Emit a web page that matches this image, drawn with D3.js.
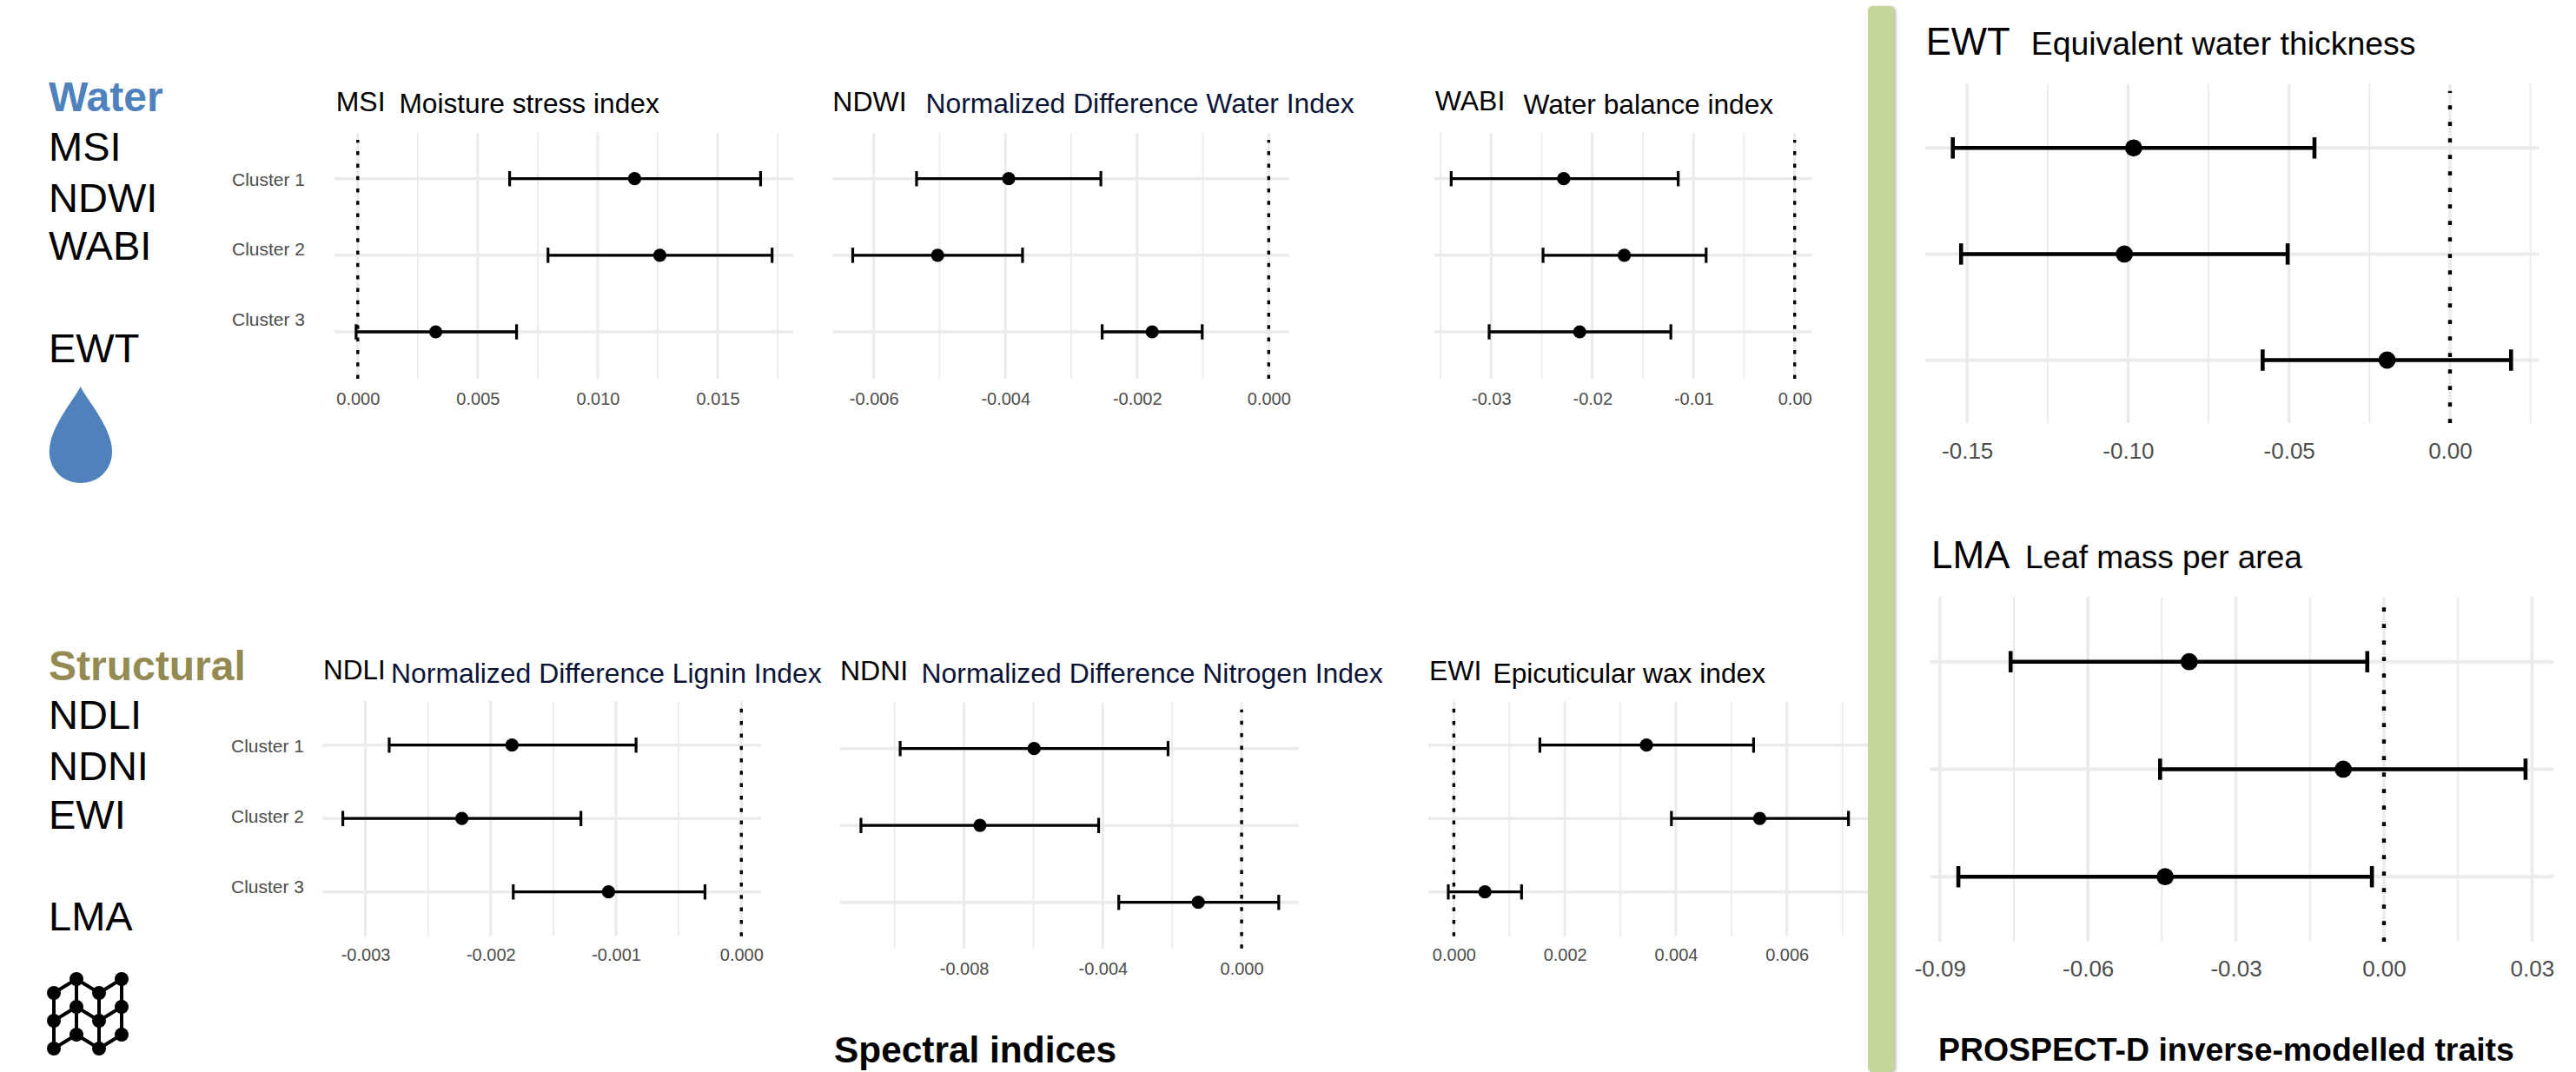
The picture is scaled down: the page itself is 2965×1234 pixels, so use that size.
<!DOCTYPE html>
<html>
<head>
<meta charset="utf-8">
<script src="https://cdn.jsdelivr.net/npm/d3@7"></script>
<style>
  html, body { margin: 0; padding: 0; background: #fff; }
  svg { display: block; }
  text { font-family: "Liberation Sans", Arial, sans-serif; }
</style>
</head>
<body>
<svg id="chart" width="2965" height="1234"></svg>
<script>
var clusters = ['Cluster 1', 'Cluster 2', 'Cluster 3'];

// values: lower end, point, upper end, one entry per cluster
var msiLow = [0.00633, 0.00793, -0.00007];
var msiMid = [0.01154, 0.01259, 0.00325];
var msiHigh = [0.01679, 0.01727, 0.00662];
var msiTicks = [0, 0.005, 0.010, 0.015];
var msiLabels = ['0.000', '0.005', '0.010', '0.015'];

var ndwiLow = [-0.00535, -0.00632, -0.00253];
var ndwiMid = [-0.00395, -0.00503, -0.00177];
var ndwiHigh = [-0.00255, -0.00374, -0.00101];
var ndwiTicks = [-0.006, -0.004, -0.002, 0];
var ndwiLabels = ['-0.006', '-0.004', '-0.002', '0.000'];

var wabiLow = [-0.03395, -0.02487, -0.0302];
var wabiMid = [-0.02283, -0.01684, -0.02125];
var wabiHigh = [-0.01151, -0.00875, -0.01224];
var wabiTicks = [-0.03, -0.02, -0.01, 0];
var wabiLabels = ['-0.03', '-0.02', '-0.01', '0.00'];

var ndliLow = [-0.00281, -0.00318, -0.00182];
var ndliMid = [-0.00183, -0.00223, -0.00106];
var ndliHigh = [-0.00084, -0.00128, -0.00029];
var ndliTicks = [-0.003, -0.002, -0.001, 0];
var ndliLabels = ['-0.003', '-0.002', '-0.001', '0.000'];

var ndniLow = [-0.00984, -0.01097, -0.00354];
var ndniMid = [-0.00598, -0.00754, -0.00125];
var ndniHigh = [-0.00212, -0.00412, 0.00107];
var ndniTicks = [-0.008, -0.004, 0];
var ndniLabels = ['-0.008', '-0.004', '0.000'];

var ewiLow = [0.00155, 0.00392, -0.0001];
var ewiMid = [0.00347, 0.00551, 0.00056];
var ewiHigh = [0.0054, 0.00711, 0.00122];
var ewiTicks = [0, 0.002, 0.004, 0.006];
var ewiLabels = ['0.000', '0.002', '0.004', '0.006'];

var ewtLow = [-0.15445, -0.15187, -0.05819];
var ewtMid = [-0.09828, -0.10115, -0.01954];
var ewtHigh = [-0.0421, -0.05043, 0.01897];
var ewtTicks = [-0.15, -0.10, -0.05, 0];
var ewtLabels = ['-0.15', '-0.10', '-0.05', '0.00'];

var lmaLow = [-0.07566, -0.04537, -0.08625];
var lmaMid = [-0.03947, -0.00825, -0.04434];
var lmaHigh = [-0.00338, 0.02869, -0.00244];
var lmaTicks = [-0.09, -0.06, -0.03, 0, 0.03];
var lmaLabels = ['-0.09', '-0.06', '-0.03', '0.00', '0.03'];

var small = { tickSize: 20, major: 3, minor: 1.8, hLine: 3.5, bar: 3.3, cap: 17.5, capW: 3.2, r: 7.6, dash: '4.5 9.8', zeroW: 3.4 };
var large = { tickSize: 26, major: 3.6, minor: 2, hLine: 4, bar: 4.5, cap: 24.5, capW: 4.6, r: 9.9, dash: '4.8 14.2', zeroW: 4.4 };

var svg = d3.select('#chart');

// green divider goes on top of the last small panel's grid, so panels are drawn first
var panels = [
  { low: msiLow, mid: msiMid, high: msiHigh, ticks: msiTicks, labels: msiLabels, domain: [-0.00097, 0.01815],
    box: [385, 913, 153, 436], rows: [205.7, 382], st: small, labelY: 30, clusterShift: [8.5, 0, -7], clusterX: 351 },
  { low: ndwiLow, mid: ndwiMid, high: ndwiHigh, ticks: ndwiTicks, labels: ndwiLabels, domain: [-0.006626, 0.000313],
    box: [958.3, 1484, 153, 436], rows: [205.7, 382], st: small, labelY: 30 },
  { low: wabiLow, mid: wabiMid, high: wabiHigh, ticks: wabiTicks, labels: wabiLabels, domain: [-0.03561, 0.00171],
    box: [1651, 2085.6, 153, 436], rows: [205.7, 382], st: small, labelY: 30 },
  { low: ndliLow, mid: ndliMid, high: ndliHigh, ticks: ndliTicks, labels: ndliLabels, domain: [-0.00334, 0.000156],
    box: [371.5, 875.8, 807, 1077.7], rows: [857.7, 1026.7], st: small, labelY: 29, clusterShift: [9, 4.7, 1.3], clusterX: 350 },
  { low: ndniLow, mid: ndniMid, high: ndniHigh, ticks: ndniTicks, labels: ndniLabels, domain: [-0.01157, 0.00164],
    box: [967, 1494.6, 808.7, 1091.7], rows: [861.7, 1038.7], st: small, labelY: 31 },
  { low: ewiLow, mid: ewiMid, high: ewiHigh, ticks: ewiTicks, labels: ewiLabels, domain: [-0.00046, 0.00746],
    box: [1644, 2150, 807.3, 1077.7], rows: [857.7, 1026.7], st: small, labelY: 29 },
  { low: ewtLow, mid: ewtMid, high: ewtHigh, ticks: ewtTicks, labels: ewtLabels, domain: [-0.16308, 0.02762],
    box: [2215.7, 2922.3, 96.8, 487], rows: [170.3, 414.5], st: large, labelY: 41 },
  { low: lmaLow, mid: lmaMid, high: lmaHigh, ticks: lmaTicks, labels: lmaLabels, domain: [-0.09197, 0.03441],
    box: [2221.6, 2939.4, 687, 1084], rows: [761.7, 1009.2], st: large, labelY: 40 }
];

panels.forEach(drawPanel);

// Draw one forest plot panel
function drawPanel(p) {
  var st = p.st;
  var left = p.box[0], right = p.box[1], top = p.box[2], bottom = p.box[3];
  var x = d3.scaleLinear().domain(p.domain).range([left, right]);
  var y = d3.scalePoint().domain(clusters).range(p.rows);
  var g = svg.append('g');

  // minor grid sits half way between the major ticks
  var step = p.ticks[1] - p.ticks[0];
  var minors = p.ticks.map(d => d - step / 2)
    .concat([p.ticks[p.ticks.length - 1] + step / 2])
    .filter(d => d > p.domain[0] && d < p.domain[1]);

  g.selectAll('.minor').data(minors).enter().append('line')
    .attr('x1', d => x(d)).attr('x2', d => x(d))
    .attr('y1', top).attr('y2', bottom)
    .style('stroke', '#ebebeb').style('stroke-width', st.minor);
  g.selectAll('.major').data(p.ticks).enter().append('line')
    .attr('x1', d => x(d)).attr('x2', d => x(d))
    .attr('y1', top).attr('y2', bottom)
    .style('stroke', '#ebebeb').style('stroke-width', st.major);
  g.selectAll('.row').data(clusters).enter().append('line')
    .attr('x1', left).attr('x2', right)
    .attr('y1', d => y(d)).attr('y2', d => y(d))
    .style('stroke', '#ebebeb').style('stroke-width', st.hLine);

  // dotted zero line, ggplot starts the dash pattern at the bottom
  g.append('line')
    .attr('x1', x(0)).attr('x2', x(0))
    .attr('y1', bottom).attr('y2', top + 8)
    .style('stroke', 'black')
    .style('stroke-width', st.zeroW)
    .style('stroke-dasharray', st.dash);

  // error bars
  clusters.forEach(function(c, i) {
    var bar = g.append('g');
    bar.append('line')
      .attr('x1', x(p.low[i])).attr('x2', x(p.high[i]))
      .attr('y1', y(c)).attr('y2', y(c))
      .style('stroke', 'black').style('stroke-width', st.bar);
    [p.low[i], p.high[i]].forEach(function(v) {
      bar.append('line')
        .attr('x1', x(v)).attr('x2', x(v))
        .attr('y1', y(c) - st.cap / 2).attr('y2', y(c) + st.cap / 2)
        .style('stroke', 'black').style('stroke-width', st.capW);
    });
    bar.append('circle')
      .attr('cx', x(p.mid[i])).attr('cy', y(c)).attr('r', st.r)
      .style('fill', 'black');
  });

  // x axis, only the labels show
  var xAxis = g.append('g')
    .attr('transform', `translate(0,${bottom})`)
    .call(d3.axisBottom(x).tickValues(p.ticks)
      .tickSize(0).tickPadding(p.labelY - st.tickSize * 0.72)
      .tickFormat((d, i) => p.labels[i]));
  xAxis.select('.domain').remove();
  xAxis.selectAll('text')
    .style('font-size', st.tickSize + 'px')
    .style('fill', '#4d4d4d');

  // cluster names only on the first panel of each row, they sit a bit off the rows
  if (p.clusterX) {
    var yAxis = g.append('g')
      .attr('transform', `translate(${p.clusterX},0)`)
      .call(d3.axisLeft(y).tickSize(0).tickPadding(0));
    yAxis.select('.domain').remove();
    yAxis.selectAll('text')
      .attr('transform', (d, i) => `translate(0,${p.clusterShift[i] - 7.5})`)
      .style('font-size', '21px')
      .style('fill', '#4d4d4d');
  }
}

// divider
svg.append('rect')
  .attr('x', 2150).attr('y', 7)
  .attr('width', 30.5).attr('height', 1227)
  .attr('rx', 5)
  .style('fill', '#c5d69b')
  .style('filter', 'drop-shadow(2px 1px 1.5px rgba(0,0,0,0.25))');

// side labels
var sideNames = ['MSI', 'NDWI', 'WABI', 'EWT', 'NDLI', 'NDNI', 'EWI', 'LMA'];
var sideY = [185, 244, 299, 417, 839, 898, 954, 1071];
svg.selectAll('.side').data(sideNames).enter().append('text')
  .attr('x', 56)
  .attr('y', (d, i) => sideY[i])
  .style('font-size', '47px')
  .style('fill', 'black')
  .text(d => d);

svg.append('text').attr('x', 56).attr('y', 128)
  .style('font-size', '48px').style('font-weight', 'bold').style('fill', '#4f81bd')
  .text('Water');
svg.append('text').attr('x', 56).attr('y', 783)
  .style('font-size', '48px').style('font-weight', 'bold').style('fill', '#948a54')
  .text('Structural');

// panel titles
var titleNames = ['MSI', 'NDWI', 'WABI', 'NDLI', 'NDNI', 'EWI', 'EWT', 'LMA'];
var titleX = [386.7, 958.3, 1651.7, 372, 967, 1645, 2216.8, 2223];
var titleY = [127.7, 127.7, 126.7, 782.3, 783.3, 782.7, 63, 653.8];
var titleSize = [32, 32, 32, 31.5, 32, 32, 43.6, 44];
svg.selectAll('.title').data(titleNames).enter().append('text')
  .attr('x', (d, i) => titleX[i])
  .attr('y', (d, i) => titleY[i])
  .style('font-size', (d, i) => titleSize[i] + 'px')
  .style('fill', 'black')
  .text(d => d);

var subNames = ['Moisture stress index', 'Normalized Difference Water Index', 'Water balance index',
  'Normalized Difference Lignin Index', 'Normalized Difference Nitrogen Index', 'Epicuticular wax index',
  'Equivalent water thickness', 'Leaf mass per area'];
var subX = [459.4, 1065.5, 1753.5, 450, 1060.5, 1718.5, 2337.7, 2331];
var subY = [130, 130, 131, 785.5, 785.5, 785.5, 63, 654];
var subSize = [31.7, 31.8, 31.7, 31.9, 31.9, 31.7, 37.4, 37];
var subFill = ['black', '#0b1437', 'black', '#0b1437', '#0b1437', 'black', 'black', 'black'];
svg.selectAll('.sub').data(subNames).enter().append('text')
  .attr('x', (d, i) => subX[i])
  .attr('y', (d, i) => subY[i])
  .style('font-size', (d, i) => subSize[i] + 'px')
  .style('fill', (d, i) => subFill[i])
  .text(d => d);

// section captions
svg.append('text').attr('x', 960).attr('y', 1223)
  .style('font-size', '42.4px').style('font-weight', 'bold')
  .text('Spectral indices');
svg.append('text').attr('x', 2231).attr('y', 1220.7)
  .style('font-size', '37.4px').style('font-weight', 'bold')
  .text('PROSPECT-D inverse-modelled traits');

// water drop icon
svg.append('path')
  .attr('d', 'M92.7 445 C84 462 57 492 56.7 520 C57 541 73 556 93 556 C113 556 129 541 129 520 C129 492 101 462 92.7 445 Z')
  .style('fill', '#4f81bd');

// leaf structure icon
var nodes = [[0, 16], [26, 0], [52, 16], [78, 0],
             [0, 48], [26, 32], [52, 48], [78, 32],
             [0, 80], [26, 64], [52, 80], [78, 64]];
var icon = svg.append('g').attr('transform', 'translate(62,1127)');
var links = [[0, 1], [1, 2], [2, 3], [4, 5], [5, 6], [6, 7], [8, 9], [9, 10], [10, 11],
             [0, 4], [4, 8], [1, 5], [5, 9], [2, 6], [6, 10], [3, 7], [7, 11]];
icon.selectAll('line').data(links).enter().append('line')
  .attr('x1', d => nodes[d[0]][0]).attr('y1', d => nodes[d[0]][1])
  .attr('x2', d => nodes[d[1]][0]).attr('y2', d => nodes[d[1]][1])
  .style('stroke', 'black').style('stroke-width', 4);
icon.selectAll('circle').data(nodes).enter().append('circle')
  .attr('cx', d => d[0]).attr('cy', d => d[1]).attr('r', 8)
  .style('fill', 'black');
</script>
</body>
</html>
